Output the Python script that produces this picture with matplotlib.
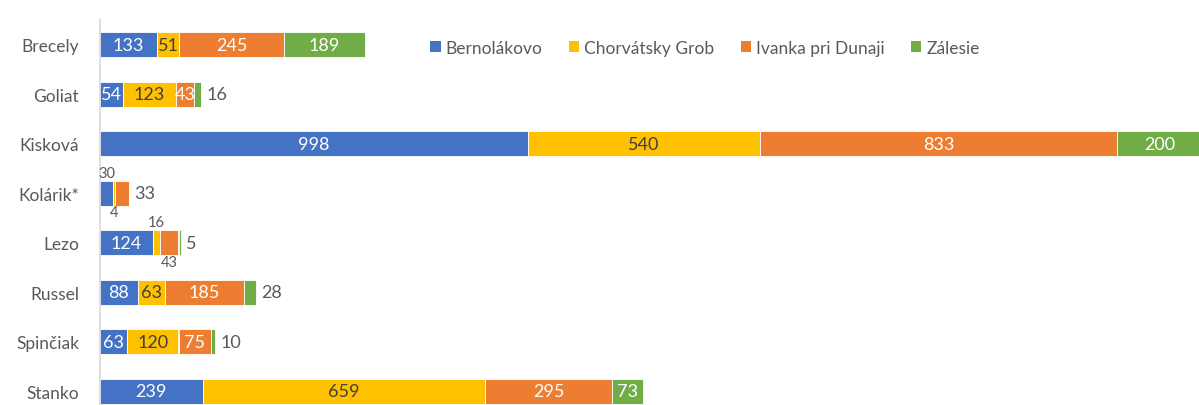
import matplotlib
matplotlib.use("Agg")
import matplotlib.pyplot as plt
import numpy as np

categories = ["Brecely", "Goliat", "Kisková", "Kolárik*", "Lezo", "Russel", "Spinčiak", "Stanko"]
series_names = ["Bernolákovo", "Chorvátsky Grob", "Ivanka pri Dunaji", "Zálesie"]
bernolakovo = [133, 54, 998, 30, 124, 88, 63, 239]
chorvatsky_grob = [51, 123, 540, 4, 16, 63, 120, 659]
ivanka = [245, 43, 833, 33, 43, 185, 75, 295]
zalesie = [189, 16, 200, 0, 5, 28, 10, 73]

colors = ["#4472C4", "#FFC000", "#ED7D31", "#70AD47"]
text_colors = ["white", "#404040", "white", "white"]
# label placement per (category, series): 'in', 'right', 'above', 'below'
placement = {
    (1, 3): "right", (3, 0): "above", (3, 1): "below", (3, 2): "right",
    (4, 1): "above", (4, 2): "below", (4, 3): "right",
    (5, 3): "right", (6, 3): "right",
}

plt.rcParams['font.family'] = ['Lato', 'DejaVu Sans']
fig = plt.figure(figsize=(11.99, 4.06), dpi=100)
ax = fig.add_axes([100 / 1199, 0.0, 1099 / 1199, 1 - 21 / 406])

data = [bernolakovo, chorvatsky_grob, ivanka, zalesie]
y = np.arange(len(categories))
left = np.zeros(len(categories))
for si, (vals, name, col) in enumerate(zip(data, series_names, colors)):
    vals = np.array(vals, dtype=float)
    ax.barh(y, vals, left=left, height=0.5, color=col, edgecolor="white", linewidth=0.6, label=name)
    for ci, v in enumerate(vals):
        if v <= 0:
            continue
        pos = placement.get((ci, si), "in")
        cx = left[ci] + v / 2
        if pos == "in":
            ax.text(cx, ci, f"{int(v)}", ha="center", va="center", color=text_colors[si], fontsize=13)
        elif pos == "right":
            ax.text(left[ci] + v + 12, ci, f"{int(v)}", ha="left", va="center", color="#595959", fontsize=13)
        elif pos == "above":
            ax.text(cx, ci - 0.41, f"{int(v)}", ha="center", va="center", color="#595959", fontsize=10.5)
        elif pos == "below":
            ax.text(cx, ci + 0.39, f"{int(v)}", ha="center", va="center", color="#595959", fontsize=10.5)
    left += vals

ax.set_xlim(0, 2562)
ax.set_ylim(7.28, -0.5)
ax.set_yticks(y)
ax.set_yticklabels(categories, fontsize=12.5, color="#595959")
ax.tick_params(axis="y", length=0, pad=15)
ax.set_xticks([])
for s in ["top", "right", "bottom"]:
    ax.spines[s].set_visible(False)
ax.spines["left"].set_color("#D9D9D9")
ax.spines["left"].set_linewidth(1.2)

leg = fig.legend(loc="center", bbox_to_anchor=(705 / 1199, 1 - 49 / 406), ncol=4, frameon=False,
                 fontsize=12.5, handlelength=0.6, handleheight=0.6, handletextpad=0.3,
                 columnspacing=1.5, labelcolor="#595959")
for h in leg.legend_handles:
    h.set_edgecolor("none")

fig.savefig("out.png", dpi=100)
